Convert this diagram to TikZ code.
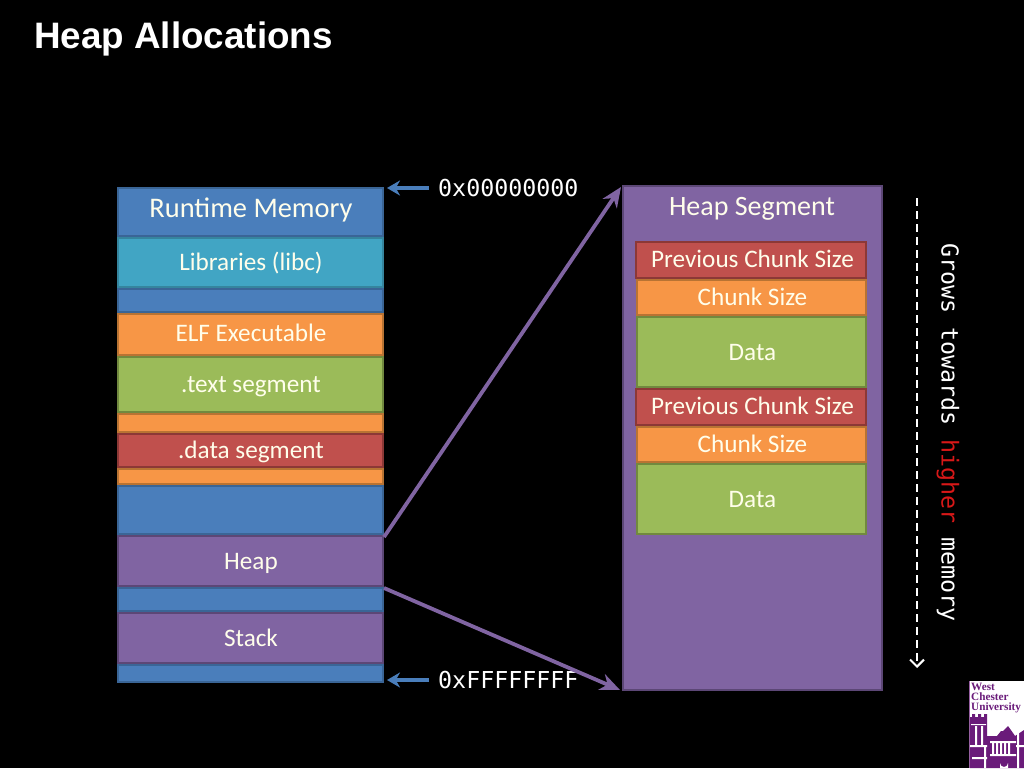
\documentclass[tikz,border=0pt]{standalone}
\usepackage{fontspec}
\setmainfont{Carlito}
\newfontfamily\titlefont{Liberation Sans}
\newfontfamily\codefont{DejaVu Sans Mono}
\newfontfamily\logofont{Liberation Serif}
\usetikzlibrary{arrows.meta}
\definecolor{cblue}{HTML}{4A7EBB}
\definecolor{cblueE}{HTML}{3A6596}
\definecolor{cteal}{HTML}{41A5C4}
\definecolor{ctealE}{HTML}{35859E}
\definecolor{corange}{HTML}{F79646}
\definecolor{corangeE}{HTML}{B87333}
\definecolor{cgreen}{HTML}{9BBB59}
\definecolor{cgreenE}{HTML}{71893F}
\definecolor{cred}{HTML}{C0504D}
\definecolor{credE}{HTML}{8C3836}
\definecolor{cpurple}{HTML}{8064A2}
\definecolor{cpurpleE}{HTML}{5C4776}
\definecolor{wcu}{HTML}{6A1B7A}
\definecolor{hired}{HTML}{D81818}
\tikzset{
  seg/.style n args={2}{draw=#2,fill=#1,line width=2pt,anchor=north west,inner sep=0pt},
  lbl/.style={text=#1,anchor=base,inner sep=0pt},
  lbl/.default=white!92!yellow,
  addr/.style={text=white,font=\codefont\fontsize{23.3}{23.3}\selectfont,inner sep=0pt},
  ptr/.style={cblue,line width=3.4pt,-{Stealth[length=13pt,width=15pt]}},
  link/.style={cpurple,line width=3.8pt,-{Stealth[length=20pt,width=17pt]}},
}
% name, colour, x0, y0, x1, y1
\newcommand{\segbox}[6]{%
  \node[seg={#2}{#2E},minimum width=#5pt-#3pt-1.6pt,minimum height=#6pt-#4pt-1.6pt] (#1) at (#3,#4) {};
}
% name, x, baseline y, size, text
\newcommand{\seglabel}[5]{%
  \node[lbl,font=\fontsize{#4}{#4}\selectfont] (#1) at (#2,#3) {#5};
}
\begin{document}
\begin{tikzpicture}[x=1pt,y=-1pt]
\useasboundingbox (0,0) rectangle (1024,768);
\fill[black] (0,0) rectangle (1024,768);
\node[anchor=base west,inner sep=0pt,text=white,font=\titlefont\bfseries\fontsize{36.8}{36.8}\selectfont] (title) at (34,48.5) {Heap Allocations};

% left column
\segbox{rt}{cblue}{117}{187}{384}{237}
\segbox{lib}{cteal}{117}{237}{384}{288}
\segbox{gapa}{cblue}{117}{288}{384}{313}
\segbox{elf}{corange}{117}{313}{384}{356}
\segbox{txt}{cgreen}{117}{356}{384}{413}
\segbox{gapb}{corange}{117}{413}{384}{433}
\segbox{dat}{cred}{117}{433}{384}{468}
\segbox{gapc}{corange}{117}{468}{384}{485}
\segbox{gapd}{cblue}{117}{485}{384}{535}
\segbox{heap}{cpurple}{117}{535}{384}{587}
\segbox{gape}{cblue}{117}{587}{384}{612}
\segbox{stack}{cpurple}{117}{612}{384}{664}
\segbox{gapf}{cblue}{117}{664}{384}{683}
\seglabel{rtt}{251}{217}{28.4}{Runtime Memory}
\seglabel{libt}{251}{270}{25.2}{Libraries (libc)}
\seglabel{elft}{251}{341}{25.2}{ELF Executable}
\seglabel{txtt}{251}{392}{25.2}{.text segment}
\seglabel{datt}{251}{458}{25.2}{.data segment}
\seglabel{heapt}{251}{569}{25.2}{Heap}
\seglabel{stackt}{251}{646}{25.2}{Stack}

% right column
\segbox{hs}{cpurple}{622}{185}{883}{691}
\seglabel{hst}{752}{215}{28}{Heap Segment}
\segbox{pa}{cred}{635}{241}{867}{279}
\segbox{ca}{corange}{636}{279}{867}{316}
\segbox{da}{cgreen}{636}{316}{867}{388}
\segbox{pb}{cred}{635}{388}{867}{426}
\segbox{cb}{corange}{636}{426}{867}{463}
\segbox{db}{cgreen}{636}{463}{867}{535}
\seglabel{pat}{752.5}{267}{25.2}{Previous Chunk Size}
\seglabel{cat}{752.5}{305}{25.2}{Chunk Size}
\seglabel{dat2}{752.5}{360}{25.2}{Data}
\seglabel{pbt}{752.5}{414}{25.2}{Previous Chunk Size}
\seglabel{cbt}{752.5}{452}{25.2}{Chunk Size}
\seglabel{dbt}{752.5}{507}{25.2}{Data}

% address labels
\node[addr,anchor=west] (lo) at (438,188) {0x00000000};
\node[addr,anchor=west] (hi) at (438,680) {0xFFFFFFFF};
\coordinate (loEnd) at (387,188);
\coordinate (hiEnd) at (387,680);
\draw[ptr] (lo.west)++(-9,0) -- (loEnd);
\draw[ptr] (hi.west)++(-9,0) -- (hiEnd);

% links
\coordinate (heapA) at (384,537);
\coordinate (heapB) at (384,588);
\coordinate (segA) at (621,187);
\coordinate (segB) at (620,690);
\draw[link] (heapA) -- (segA);
\draw[link] (heapB) -- (segB);

% growth direction
\coordinate (gs) at (917,198);
\coordinate (ge) at (917,668);
\draw[white,line width=2pt,dash pattern=on 8pt off 5pt,-{Straight Barb[length=7pt,width=14pt]}] (gs) -- (ge);
\node[anchor=west,rotate=-90,inner sep=0pt,text=white,font=\codefont\fontsize{23.3}{23.3}\selectfont] (grow) at (948,243) {Grows towards \textcolor{hired}{higher} memory};

% logo
\fill[white] (969,681) rectangle (1024,768);
\draw[wcu!70!white,line width=1pt] (969.5,681) -- (969.5,768);
\node[anchor=north west,inner sep=0pt,align=left,text=wcu,font=\logofont\bfseries\fontsize{11.2}{10.2}\selectfont] (logo) at (971,683) {West\\Chester\\University};
% towers and central block
\fill[wcu] (970,717) -- (972,717) -- (972,714) -- (975,714) -- (975,717) -- (978,717) -- (978,714) -- (981,714) -- (981,717) -- (984,717) -- (984,714) -- (987,714) -- (987,768) -- (970,768) -- cycle;
\fill[wcu] (987,736) -- (997,736) -- (1001,731) -- (1003,731) -- (1008,726) -- (1013,733) -- (1015,736) -- (1024,730) -- (1024,768) -- (987,768) -- cycle;
\fill[white] (975,726) rectangle (977,745) (981,726) rectangle (983,745) (970,745) rectangle (987,747);
\fill[white] (972,757) rectangle (987,759) (984,747) rectangle (986,768) (971,724) rectangle (986,725);
\fill[white] (990,741) rectangle (1016,743) (990,754) rectangle (1016,756);
\fill[white] (992,743) rectangle (994,754) (996,743) rectangle (998,754) (1000,743) rectangle (1002,754) (1004,743) rectangle (1006,754) (1008,743) rectangle (1010,754);
\fill[white] (1000,768) -- (1000,763) arc[start angle=180,end angle=0,radius=4] -- (1008,768) -- cycle;
\fill[white] (1017,733) rectangle (1019,768) (1016,745) rectangle (1024,747);
\end{tikzpicture}
\end{document}
